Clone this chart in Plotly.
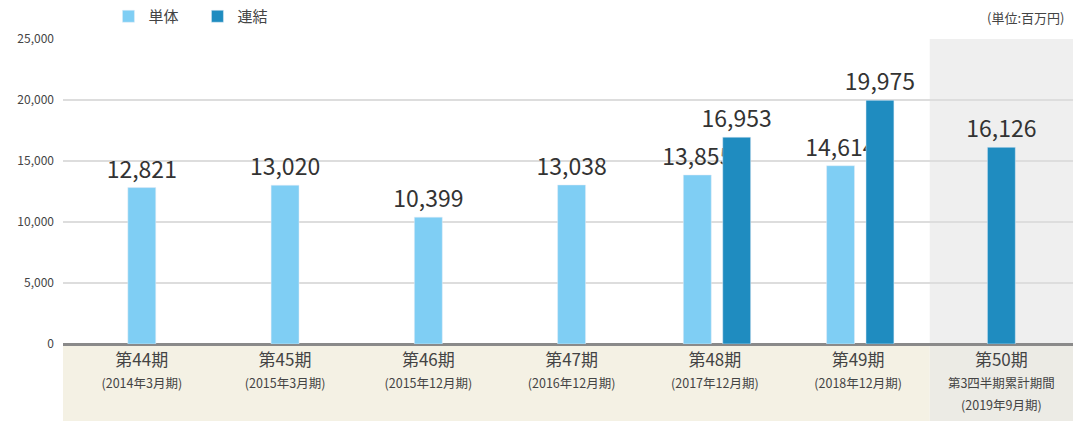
import plotly.graph_objects as go

# data
periods = ["第44期", "第45期", "第46期", "第47期", "第48期", "第49期", "第50期"]
period_notes = [
    "(2014年3月期)", "(2015年3月期)", "(2015年12月期)", "(2016年12月期)",
    "(2017年12月期)", "(2018年12月期)", "第3四半期累計期間<br>(2019年9月期)",
]
tantai = [12821, 13020, 10399, 13038, 13855, 14614, None]
renketsu = [None, None, None, None, 16953, 19975, 16126]

LIGHT = "#7fcef4"
DARK = "#1f8cc0"
FONT = "Noto Sans CJK JP"
BAR_W = 0.195

ticktext = [
    f"{p}<br><span style='font-size:12.5px'>{n}</span>"
    for p, n in zip(periods, period_notes)
]


def offsets(own, other, side):
    # centered if alone in its period, shifted when paired
    res = []
    for a, b in zip(own, other):
        if a is None:
            res.append(0)
        elif b is None:
            res.append(-BAR_W / 2)
        else:
            res.append(-0.22 if side == "left" else 0.055)
    return res


fig = go.Figure()
fig.add_trace(go.Bar(
    name="単体", x=periods, y=tantai, marker_color=LIGHT,
    width=BAR_W, offset=offsets(tantai, renketsu, "left"),
    texttemplate="%{y:,}", textposition="outside", constraintext="none",
    textfont=dict(size=23, color="#333"), cliponaxis=False,
))
fig.add_trace(go.Bar(
    name="連結", x=periods, y=renketsu, marker_color=DARK,
    width=BAR_W, offset=offsets(renketsu, tantai, "right"),
    texttemplate="%{y:,}", textposition="outside", constraintext="none",
    textfont=dict(size=23, color="#333"), cliponaxis=False,
))

n = len(periods)
label_h = -77 / 305
shapes = [
    # beige label band
    dict(type="rect", xref="x", yref="paper", x0=-0.55, x1=n - 1.5,
         y0=label_h, y1=0, fillcolor="#f4f1e4", line_width=0, layer="below"),
    # last period highlight
    dict(type="rect", xref="x", yref="paper", x0=n - 1.5, x1=n - 0.5,
         y0=0, y1=1, fillcolor="#efefef", line_width=0, layer="below"),
    dict(type="rect", xref="x", yref="paper", x0=n - 1.5, x1=n - 0.5,
         y0=label_h, y1=0, fillcolor="#ecebe5", line_width=0, layer="below"),
]

fig.update_layout(
    width=1073, height=421,
    margin=dict(l=63, r=0, t=39, b=77),
    paper_bgcolor="white", plot_bgcolor="rgba(0,0,0,0)",
    font=dict(family=FONT, color="#444"),
    barmode="overlay",
    showlegend=True,
    legend=dict(orientation="h", x=0.045, y=1.075, xanchor="left", yanchor="middle",
                font=dict(size=15, color="#444"), itemwidth=30, traceorder="normal",
                entrywidth=44),
    shapes=shapes,
    annotations=[dict(text="(単位:百万円)", xref="paper", yref="paper", x=0.993, y=1.07,
                      xanchor="right", yanchor="middle", showarrow=False,
                      font=dict(size=13, color="#444"))],
)
fig.update_xaxes(
    type="category", range=[-0.55, n - 0.5], tickmode="array",
    tickvals=periods, ticktext=ticktext, tickfont=dict(size=17, color="#444"),
    showgrid=False, ticks="", showline=False, ticklabelstandoff=4,
)
fig.update_yaxes(
    range=[0, 25000], dtick=5000, tickformat=",", showgrid=True,
    gridcolor="#dddddd", gridwidth=1.5, zeroline=True, zerolinecolor="#8a8a8a",
    zerolinewidth=2.5, tickfont=dict(size=12, color="#444"), ticklabelstandoff=8,
)

fig.write_html(
    "out.html",
    config={"displayModeBar": False},
    post_script="document.body.style.margin='0';document.body.style.overflow='hidden';",
)
